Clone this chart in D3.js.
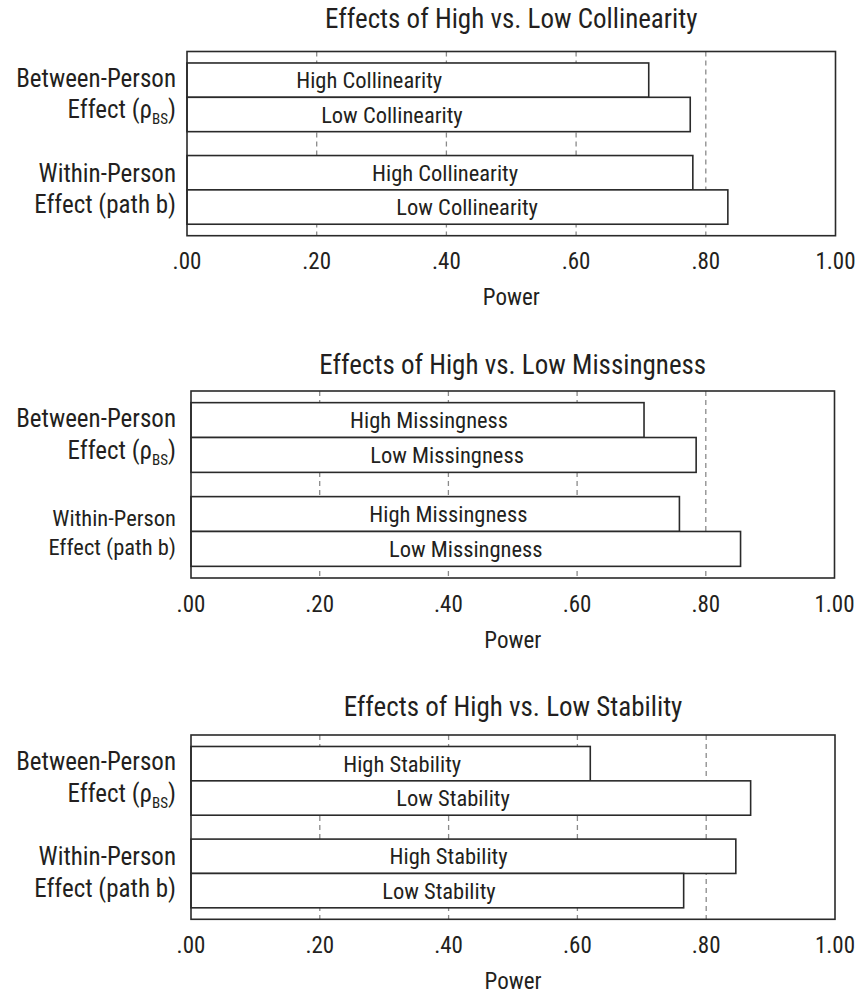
<!DOCTYPE html>
<html>
<head>
<meta charset="utf-8">
<script src="https://cdn.jsdelivr.net/npm/d3@7"></script>
<style>
  html, body { margin: 0; padding: 0; background: #fff; }
  svg text { font-family: "Liberation Sans Narrow", "Arial Narrow", "Roboto Condensed", "Liberation Sans", Arial, sans-serif; fill: #231f20; }
</style>
</head>
<body>
<svg id="chart" width="858" height="995"></svg>
<script>
// ---------- data ----------
const titles = [
  "Effects of High vs. Low Collinearity",
  "Effects of High vs. Low Missingness",
  "Effects of High vs. Low Stability"
];
const groups = ["Between-Person", "Within-Person"];
const levels = ["High", "Low"];
const collinearityLabels = ["High Collinearity", "Low Collinearity", "High Collinearity", "Low Collinearity"];
const missingnessLabels = ["High Missingness", "Low Missingness", "High Missingness", "Low Missingness"];
const stabilityLabels = ["High Stability", "Low Stability", "High Stability", "Low Stability"];
// order: between-high, between-low, within-high, within-low
const collinearityPower = [0.712, 0.776, 0.780, 0.834];
const missingnessPower = [0.704, 0.785, 0.759, 0.854];
const stabilityPower = [0.620, 0.869, 0.846, 0.765];
// where each bar's text sits, in power units
const collinearityLabelAt = [0.281, 0.316, 0.398, 0.432];
const missingnessLabelAt = [0.370, 0.398, 0.400, 0.427];
const stabilityLabelAt = [0.328, 0.407, 0.400, 0.385];
const tickValues = [0, 0.2, 0.4, 0.6, 0.8, 1.0];
const tickLabels = [".00", ".20", ".40", ".60", ".80", "1.00"];
const gridValues = [0.2, 0.4, 0.6, 0.8];
const xTitle = "Power";

// ---------- layout ----------
const panels = [
  { title: titles[0], labels: collinearityLabels, values: collinearityPower, labelAt: collinearityLabelAt,
    left: 187, right: 835.5, top: 51.5, bottom: 235.7, titleGap: 23.5, withinSize: 25, withinShift: 0 },
  { title: titles[1], labels: missingnessLabels, values: missingnessPower, labelAt: missingnessLabelAt,
    left: 191, right: 834.5, top: 391, bottom: 578, titleGap: 17, withinSize: 22.5, withinShift: 2.5 },
  { title: titles[2], labels: stabilityLabels, values: stabilityPower, labelAt: stabilityLabelAt,
    left: 191, right: 835, top: 735, bottom: 919.3, titleGap: 19, withinSize: 25, withinShift: 0 }
];

const svg = d3.select("#chart");
const ink = "#2a2a2a";

panels.forEach(p => {
  const g = svg.append("g");
  const x = d3.scaleLinear().domain([0, 1]).range([p.left, p.right]);
  const yGroup = d3.scaleBand().domain(groups).range([p.top, p.bottom])
    .paddingInner(0.258).paddingOuter(0.124);
  const yLevel = d3.scaleBand().domain(levels).range([0, yGroup.bandwidth()]);

  const rows = p.values.map((v, i) => ({
    group: groups[Math.floor(i / 2)],
    level: levels[i % 2],
    value: v,
    label: p.labels[i],
    labelAt: p.labelAt[i]
  }));

  // title
  g.append("text")
    .attr("x", (p.left + p.right) / 2)
    .attr("y", p.top - p.titleGap)
    .attr("text-anchor", "middle")
    .style("font-size", "27px")
    .text(p.title);

  // dashed gridlines (behind bars)
  g.selectAll("line.grid").data(gridValues).join("line")
    .attr("class", "grid")
    .attr("x1", d => x(d)).attr("x2", d => x(d))
    .attr("y1", p.top).attr("y2", p.bottom)
    .attr("stroke", "#8a8a8a").attr("stroke-width", 1.3)
    .attr("stroke-dasharray", "5,4");

  // bars
  g.selectAll("rect.bar").data(rows).join("rect")
    .attr("class", "bar")
    .attr("x", x(0))
    .attr("y", d => yGroup(d.group) + yLevel(d.level))
    .attr("width", d => x(d.value) - x(0))
    .attr("height", yLevel.bandwidth())
    .attr("fill", "#fff")
    .attr("stroke", ink).attr("stroke-width", 1.6);

  // bar labels
  g.selectAll("text.barlabel").data(rows).join("text")
    .attr("class", "barlabel")
    .attr("x", d => x(d.labelAt))
    .attr("y", d => yGroup(d.group) + yLevel(d.level) + yLevel.bandwidth() / 2)
    .attr("dy", "0.36em")
    .attr("text-anchor", "middle")
    .style("font-size", "22.5px")
    .text(d => d.label);

  // frame
  g.append("rect")
    .attr("x", p.left).attr("y", p.top)
    .attr("width", p.right - p.left).attr("height", p.bottom - p.top)
    .attr("fill", "none").attr("stroke", ink).attr("stroke-width", 1.6);

  // x axis tick labels
  g.selectAll("text.tick").data(tickValues).join("text")
    .attr("class", "tick")
    .attr("x", d => x(d))
    .attr("y", p.bottom + 33.5)
    .attr("text-anchor", "middle")
    .style("font-size", "23px")
    .text((d, i) => tickLabels[i]);

  // x axis title
  g.append("text")
    .attr("x", (p.left + p.right) / 2)
    .attr("y", p.bottom + 69.5)
    .attr("text-anchor", "middle")
    .style("font-size", "23px")
    .text(xTitle);

  // y category labels
  const labelRight = 176;
  const c1 = yGroup(groups[0]) + yGroup.bandwidth() / 2;
  const c2 = yGroup(groups[1]) + yGroup.bandwidth() / 2;

  g.append("text").attr("x", labelRight).attr("y", c1 - 10.5)
    .attr("text-anchor", "end").style("font-size", "25px").text("Between-Person");
  const t2 = g.append("text").attr("x", labelRight).attr("y", c1 + 21)
    .attr("text-anchor", "end").style("font-size", "25px");
  t2.append("tspan").text("Effect (ρ");
  t2.append("tspan").attr("dy", 6).style("font-size", "15px").text("BS");
  t2.append("tspan").attr("dy", -6).text(")");

  g.append("text").attr("x", labelRight).attr("y", c2 - 8 + p.withinShift)
    .attr("text-anchor", "end").style("font-size", p.withinSize + "px").text("Within-Person");
  g.append("text").attr("x", labelRight).attr("y", c2 + 23.5)
    .attr("text-anchor", "end").style("font-size", p.withinSize + "px").text("Effect (path b)");
});
</script>
</body>
</html>
